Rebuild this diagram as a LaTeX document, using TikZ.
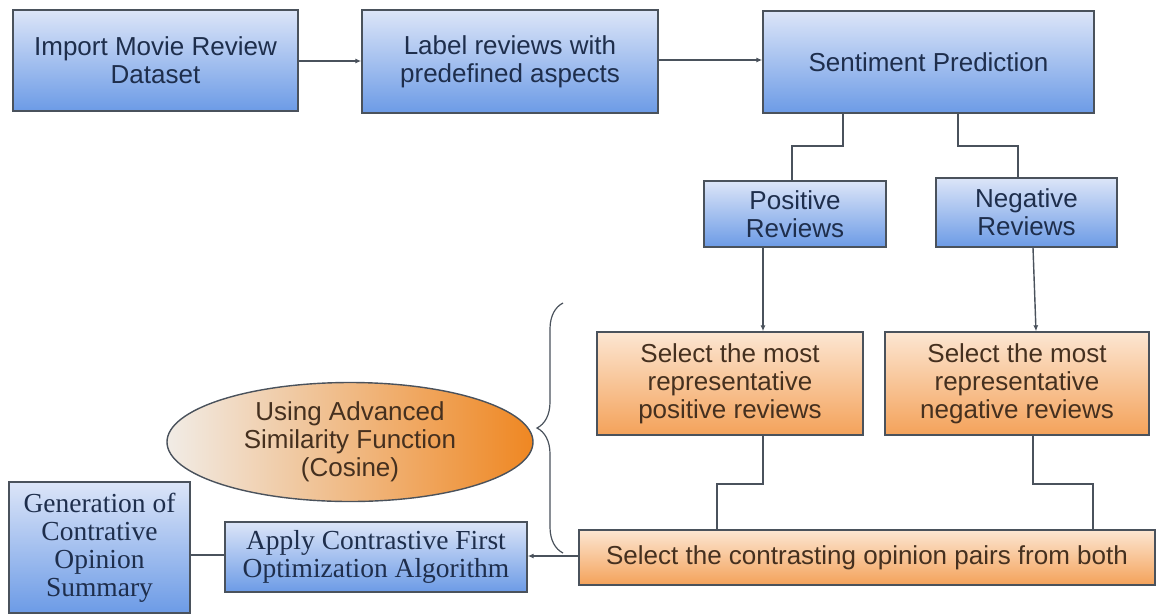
\documentclass[tikz,border=0pt]{standalone}
\usepackage{fontspec}
\setmainfont{Liberation Sans}
\newfontfamily\tnr{Liberation Serif}
\usetikzlibrary{shapes.geometric,arrows.meta,decorations.pathreplacing}
\definecolor{bluetop}{HTML}{DCE5F8}
\definecolor{bluebot}{HTML}{6C9BE6}
\definecolor{oratop}{HTML}{FCE6D2}
\definecolor{orabot}{HTML}{F4A25A}
\definecolor{simleft}{HTML}{F1ECE6}
\definecolor{simright}{HTML}{EF8722}
\definecolor{bluetext}{HTML}{1E2E4C}
\definecolor{oratext}{HTML}{45301F}
\definecolor{edge}{HTML}{4A525C}
\begin{document}
\begin{tikzpicture}[x=1pt,y=-1pt,
	bluebox/.style={draw=edge,line width=1.4pt,top color=bluetop,bottom color=bluebot,text=bluetext,align=center,inner sep=0pt,font=\fontsize{26}{28}\selectfont},
	orangebox/.style={draw=edge,line width=1.4pt,top color=oratop,bottom color=orabot,text=oratext,align=center,inner sep=0pt,font=\fontsize{26}{28}\selectfont},
	serifbox/.style={bluebox,font=\tnr\fontsize{27.5}{28}\selectfont},
	sim/.style={ellipse,draw=edge,line width=1.4pt,left color=simleft,right color=simright,text=oratext,align=center,inner sep=0pt,font=\fontsize{26}{28}\selectfont},
	link/.style={draw=edge,line width=1.4pt},
	arr/.style={link,-{Latex[length=6pt,width=5pt]}}]
	\useasboundingbox (0,0) rectangle (1156,614);
	\node[bluebox,minimum width=285pt,minimum height=101pt] (import) at (155.5,60.5) {Import Movie Review\\Dataset};
	\node[bluebox,minimum width=296pt,minimum height=103pt] (label) at (510,61.5) {Label reviews with\\predefined aspects};
	\node[bluebox,minimum width=331pt,minimum height=102pt] (sentiment) at (928.5,62) {Sentiment Prediction};
	\node[bluebox,minimum width=182pt,minimum height=66pt] (positive) at (795,214) {Positive\\Reviews};
	\node[bluebox,minimum width=181pt,minimum height=69pt] (negative) at (1026.5,212.5) {Negative\\Reviews};
	\node[orangebox,minimum width=266pt,minimum height=103pt] (selpos) at (730,383.5) {Select the most\\representative\\positive reviews};
	\node[orangebox,minimum width=264pt,minimum height=103pt] (selneg) at (1017,383.5) {Select the most\\representative\\negative reviews};
	\node[orangebox,minimum width=576pt,minimum height=55pt] (pairs) at (867,557.5) {Select the contrasting opinion pairs from both};
	\node[serifbox,minimum width=302pt,minimum height=70pt] (apply) at (376,557) {Apply Contrastive First\\Optimization Algorithm};
	\node[serifbox,minimum width=181pt,minimum height=131pt] (summary) at (99.5,547.5) {Generation of\\Contrative\\Opinion\\Summary};
	\node[sim,minimum width=366pt,minimum height=119pt] (cosine) at (350,442) {Using Advanced\\Similarity Function\\(Cosine)};
	\path (563,553) coordinate (brbot)
	++ (0,-250) coordinate (brtop);

	\draw[arr] (import.east |- 0,61) -- (label.west |- 0,61);
	\draw[arr] (label.east |- 0,60) -- (sentiment.west |- 0,60);
	\draw[link] (sentiment.south -| 843,0) |- (792,146) -- (positive.north -| 792,0);
	\draw[link] (sentiment.south -| 958,0) |- (1018,146) -- (negative.north -| 1018,0);
	\draw[arr] (positive.south -| 763,0) -- (selpos.north -| 763,0);
	\draw[arr] (negative.south -| 1033,0) -- (selneg.north -| 1036,0);
	\draw[link] (selpos.south -| 763,0) |- (717,484) -- (pairs.north -| 717,0);
	\draw[link] (selneg.south -| 1033,0) |- (1093,484) -- (pairs.north -| 1093,0);
	\draw[arr] (pairs.west |- 0,556) -- (apply.east |- 0,556);
	\draw[link] (summary.east |- 0,555) -- (apply.west |- 0,555);
	\draw[link,line width=1.2pt,decorate,decoration={brace,amplitude=26pt}] (brbot) -- (brtop);
\end{tikzpicture}
\end{document}
